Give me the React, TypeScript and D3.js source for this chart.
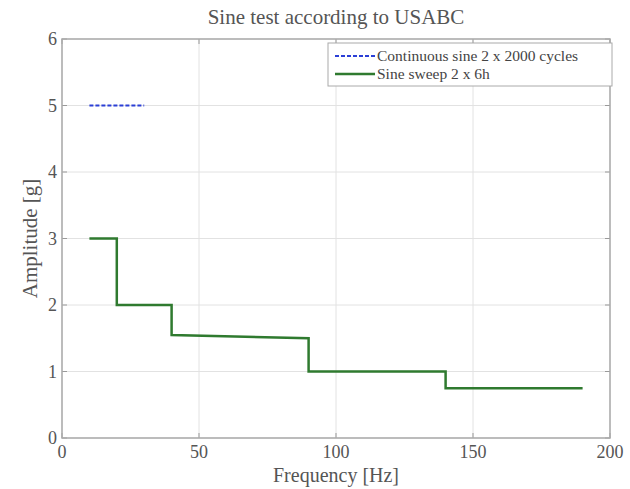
import React from "react";
import * as d3 from "d3";

const sweepFreq = [10, 20, 20, 40, 40, 90, 90, 140, 140, 190];
const sweepAmp = [3, 3, 2, 2, 1.55, 1.5, 1, 1, 0.75, 0.75];
const contFreq = [10, 30];
const contAmp = [5, 5];
const xTicks = [0, 50, 100, 150, 200];
const yTicks = [0, 1, 2, 3, 4, 5, 6];
const legendLabels = ["Continuous sine 2 x 2000 cycles", "Sine sweep 2 x 6h"];
const title = "Sine test according to USABC";
const xLabel = "Frequency [Hz]";
const yLabel = "Amplitude [g]";

export default function App() {
  const W = 630, H = 489;
  const left = 62, right = 610, top = 39, bottom = 438;
  const x = d3.scaleLinear().domain([0, 200]).range([left, right]);
  const y = d3.scaleLinear().domain([0, 6]).range([bottom, top]);
  const line = d3.line<[number, number]>().x(d => x(d[0])).y(d => y(d[1]));
  const sweep = line(sweepFreq.map((f, i) => [f, sweepAmp[i]] as [number, number])) || "";
  const cont = line(contFreq.map((f, i) => [f, contAmp[i]] as [number, number])) || "";
  const font = "'Liberation Serif', 'Times New Roman', serif";
  const lx = 328, ly = 43, lw = 284, lh = 43;
  return (
    <svg width={W} height={H} style={{ position: "absolute", left: 0, top: 0, background: "#fff" }} fontFamily={font}>
      <rect x={0} y={0} width={W} height={H} fill="#fff" />
      {xTicks.map(t => (
        <line key={"gx" + t} x1={x(t)} x2={x(t)} y1={top} y2={bottom} stroke="#e2e2e2" strokeWidth={1} />
      ))}
      {yTicks.map(t => (
        <line key={"gy" + t} x1={left} x2={right} y1={y(t)} y2={y(t)} stroke="#e2e2e2" strokeWidth={1} />
      ))}
      {xTicks.map(t => (
        <g key={"tx" + t}>
          <line x1={x(t)} x2={x(t)} y1={bottom} y2={bottom - 5} stroke="#999" />
          <line x1={x(t)} x2={x(t)} y1={top} y2={top + 5} stroke="#999" />
          <text x={x(t)} y={bottom + 20} textAnchor="middle" fontSize={18} fill="#555">{t}</text>
        </g>
      ))}
      {yTicks.map(t => (
        <g key={"ty" + t}>
          <line x1={left} x2={left + 5} y1={y(t)} y2={y(t)} stroke="#999" />
          <line x1={right} x2={right - 5} y1={y(t)} y2={y(t)} stroke="#999" />
          <text x={left - 5} y={y(t) + 6} textAnchor="end" fontSize={18} fill="#555">{t}</text>
        </g>
      ))}
      <rect x={left} y={top} width={right - left} height={bottom - top} fill="none" stroke="#aaa" strokeWidth={1.5} />
      <path d={cont} fill="none" stroke="#2b3fd6" strokeWidth={2} strokeDasharray="4,2" />
      <path d={sweep} fill="none" stroke="#2f7a2f" strokeWidth={2.5} />
      <rect x={lx} y={ly} width={lw} height={lh} fill="#fff" stroke="#aaa" strokeWidth={1} />
      <line x1={lx + 7} x2={lx + 47} y1={ly + 13} y2={ly + 13} stroke="#2b3fd6" strokeWidth={2} strokeDasharray="4,2" />
      <text x={lx + 49} y={ly + 18} fontSize={15.5} fill="#444">{legendLabels[0]}</text>
      <line x1={lx + 7} x2={lx + 47} y1={ly + 31} y2={ly + 31} stroke="#2f7a2f" strokeWidth={2.5} />
      <text x={lx + 49} y={ly + 36} fontSize={15.5} fill="#444">{legendLabels[1]}</text>
      <text x={(left + right) / 2} y={24} textAnchor="middle" fontSize={21} fill="#555">{title}</text>
      <text x={(left + right) / 2} y={482} textAnchor="middle" fontSize={20} fill="#555">{xLabel}</text>
      <text transform={`translate(37,${(top + bottom) / 2}) rotate(-90)`} textAnchor="middle" fontSize={21} fill="#555">{yLabel}</text>
    </svg>
  );
}
